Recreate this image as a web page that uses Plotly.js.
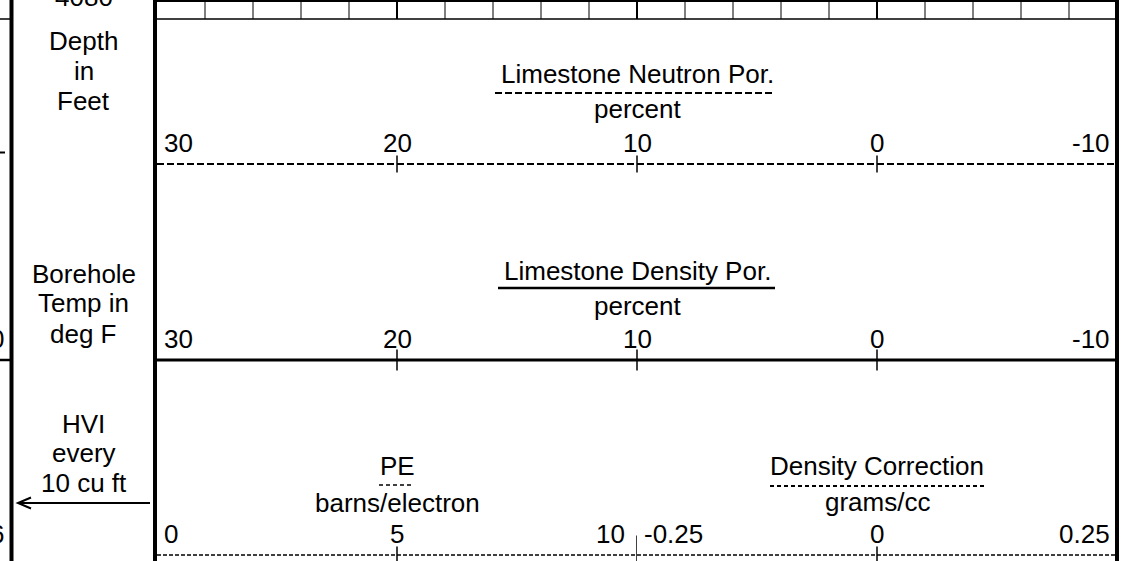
<!DOCTYPE html>
<html><head><meta charset="utf-8">
<script src="https://cdn.plot.ly/plotly-3.0.1.min.js"></script>
<style>html,body{margin:0;padding:0;background:#fff;overflow:hidden}#chart{width:1143px;height:561px}</style>
</head><body><div id="chart"></div>
<script>
// ---------- data ----------
const neutronRange = [30, -10];
const neutronTickVals = [30, 20, 10, 0, -10];
const neutronTickText = ['30', '20', '10', '0', '-10'];
const densityRange = [30, -10];
const densityTickVals = [30, 20, 10, 0, -10];
const densityTickText = ['30', '20', '10', '0', '-10'];
const peRange = [0, 10];
const peTickVals = [0, 5, 10];
const peTickText = ['0', '5', '10'];
const dcRange = [-0.25, 0.25];
const dcTickVals = [-0.25, 0, 0.25];
const dcTickText = ['-0.25', '0', '0.25'];
const gridMinor = [28, 26, 24, 22, 18, 16, 14, 12, 8, 6, 4, 2, -2, -4, -6, -8];
const gridMajor = [20, 10, 0];
const depthValue = '4080';
const depthTitle = ['Depth', 'in', 'Feet'];
const tempTitle = ['Borehole', 'Temp in', 'deg F'];
const hviTitle = ['HVI', 'every', '10 cu ft'];
const neutronTitle = 'Limestone Neutron Por.';
const neutronUnit = 'percent';
const densityTitle = 'Limestone Density Por.';
const densityUnit = 'percent';
const peTitle = 'PE';
const peUnit = 'barns/electron';
const dcTitle = 'Density Correction';
const dcUnit = 'grams/cc';
const leftFragments = ['0', '6'];

// ---------- layout helpers ----------
const W = 1143, H = 561;
const FS = 26;
const FONT = {family: 'Liberation Sans, Arial, sans-serif', size: FS, color: '#000'};
const K = '#000';

function lab(text, xref, x, baseline, anchor, xshift) {
  return {text: text, xref: xref, yref: 'y', x: x, y: baseline - 0.3465 * FS,
    xanchor: anchor || 'center', yanchor: 'middle', showarrow: false,
    xshift: xshift || 0, font: FONT, borderpad: 0};
}
function vlines(vals, y0, y1) {
  const x = [], y = [];
  vals.forEach(v => { x.push(v, v, null); y.push(y0, y1, null); });
  return {x: x, y: y};
}

const traces = [];
// anchor trace for pixel axes
traces.push({x: [0], y: [0], xaxis: 'x', yaxis: 'y', mode: 'markers', marker: {opacity: 0}, hoverinfo: 'skip'});
// top grid
const gm = vlines(gridMinor, 1, 19);
traces.push({x: gm.x, y: gm.y, xaxis: 'x2', yaxis: 'y', mode: 'lines', line: {color: K, width: 1}, hoverinfo: 'skip'});
const gM = vlines(gridMajor, 1, 19);
traces.push({x: gM.x, y: gM.y, xaxis: 'x2', yaxis: 'y', mode: 'lines', line: {color: K, width: 2}, hoverinfo: 'skip'});
// neutron scale line + ticks
traces.push({x: [neutronTickVals[0], neutronTickVals[neutronTickVals.length - 1]], y: [164, 164], xaxis: 'x2', yaxis: 'y',
  mode: 'lines', line: {color: K, width: 2, dash: '7px,3px'}, hoverinfo: 'skip'});
traces.push({x: neutronTickVals.slice(1, -1), y: neutronTickVals.slice(1, -1).map(() => 164), xaxis: 'x2', yaxis: 'y',
  mode: 'markers', marker: {symbol: 'line-ns', size: 12, line: {color: K, width: 1.5}}, hoverinfo: 'skip'});
// density scale line + ticks
traces.push({x: [densityTickVals[0], densityTickVals[densityTickVals.length - 1]], y: [360, 360], xaxis: 'x2', yaxis: 'y',
  mode: 'lines', line: {color: K, width: 3}, hoverinfo: 'skip'});
traces.push({x: densityTickVals.slice(1, -1), y: densityTickVals.slice(1, -1).map(() => 360), xaxis: 'x2', yaxis: 'y',
  mode: 'markers', marker: {symbol: 'line-ns', size: 15, line: {color: K, width: 1.5}}, hoverinfo: 'skip'});
// PE scale line + ticks
traces.push({x: [peTickVals[0], peTickVals[peTickVals.length - 1]], y: [555, 555], xaxis: 'x3', yaxis: 'y',
  mode: 'lines', line: {color: K, width: 1.5, dash: '4px,2px'}, hoverinfo: 'skip'});
traces.push({x: peTickVals.slice(1, -1), y: [555], xaxis: 'x3', yaxis: 'y',
  mode: 'markers', marker: {symbol: 'line-ns', size: 12, line: {color: K, width: 1.5}}, hoverinfo: 'skip'});
traces.push({x: [peTickVals[peTickVals.length - 1]], y: [551], xaxis: 'x3', yaxis: 'y',
  mode: 'markers', marker: {symbol: 'line-ns', size: 22, line: {color: K, width: 1.5}}, hoverinfo: 'skip'});
// density correction scale line + ticks
traces.push({x: [dcTickVals[0], dcTickVals[dcTickVals.length - 1]], y: [555, 555], xaxis: 'x4', yaxis: 'y',
  mode: 'lines', line: {color: K, width: 1.5, dash: '4px,2px'}, hoverinfo: 'skip'});
traces.push({x: dcTickVals.slice(1, -1), y: [555], xaxis: 'x4', yaxis: 'y',
  mode: 'markers', marker: {symbol: 'line-ns', size: 12, line: {color: K, width: 1.5}}, hoverinfo: 'skip'});

// ---------- annotations ----------
const ann = [];
function scaleLabels(vals, texts, xref, baseline, lastShift) {
  vals.forEach((v, i) => {
    if (i === 0) ann.push(lab(texts[i], xref, v, baseline, 'left', 6));
    else if (i === vals.length - 1) ann.push(lab(texts[i], xref, v, baseline, 'right', lastShift));
    else ann.push(lab(texts[i], xref, v, baseline, 'center', 0));
  });
}
scaleLabels(neutronTickVals, neutronTickText, 'x2', 152, -6);
scaleLabels(densityTickVals, densityTickText, 'x2', 348, -6);
scaleLabels(peTickVals, peTickText, 'x3', 543, -11);
scaleLabels(dcTickVals, dcTickText, 'x4', 543, -6);

ann.push(lab(neutronTitle, 'x2', 10, 83));
ann.push(lab(neutronUnit, 'x2', 10, 118));
ann.push(lab(densityTitle, 'x2', 10, 280));
ann.push(lab(densityUnit, 'x2', 10, 315));
ann.push(lab(peTitle, 'x3', 5, 475));
ann.push(lab(peUnit, 'x3', 5, 512));
ann.push(lab(dcTitle, 'x4', 0, 475));
ann.push(lab(dcUnit, 'x4', 0, 511));

const colX = 83.5;
// depth value at the very top (partly cut by the page edge, as in the reference)
ann.push({text: depthValue, xref: 'x', yref: 'y', x: colX, y: 7 + 0.212 * FS,
  xanchor: 'center', yanchor: 'bottom', showarrow: false, font: FONT, borderpad: 0});
[50, 80, 110].forEach((b, i) => ann.push(lab(depthTitle[i], 'x', colX, b)));
[283, 312, 343].forEach((b, i) => ann.push(lab(tempTitle[i], 'x', colX, b)));
[433, 462, 492].forEach((b, i) => ann.push(lab(hviTitle[i], 'x', colX, b)));
ann.push(lab(leftFragments[0], 'x', 5, 348, 'right'));
ann.push(lab(leftFragments[1], 'x', 5, 543, 'right'));

// ---------- shapes (frame) ----------
function seg(x0, y0, x1, y1, w, dash) {
  return {type: 'line', xref: 'x', yref: 'y', x0: x0, y0: y0, x1: x1, y1: y1,
    line: {color: K, width: w, dash: dash || 'solid'}};
}
const shapes = [
  seg(11.5, 0, 11.5, H, 4),
  seg(155, 0, 155, H, 4),
  seg(1117, 0, 1117, H, 4),
  seg(157, 1, 1117, 1, 2),
  seg(157, 19, 1117, 19, 1.5),
  seg(0, 19, 12, 19, 1.5),
  seg(0, 152.5, 5, 152.5, 2),
  seg(0, 360, 12, 360, 2.5),
  seg(495, 93, 773, 93, 2, '7px,3px'),
  seg(498, 288, 775, 288, 2.5),
  seg(379, 485, 414, 485, 1.5, '4px,3px'),
  seg(770, 486, 987, 486, 2, '4px,3px'),
  {type: 'path', xref: 'x', yref: 'y', path: 'M150,503 L18,503 M31,497.5 L18,503 L31,508.5',
    line: {color: K, width: 2}}
];

const layout = {
  width: W, height: H, margin: {l: 0, r: 0, t: 0, b: 0, pad: 0},
  paper_bgcolor: '#fff', plot_bgcolor: 'rgba(0,0,0,0)', showlegend: false,
  xaxis: {range: [0, W], domain: [0, 1], visible: false, fixedrange: true},
  yaxis: {range: [H, 0], domain: [0, 1], visible: false, fixedrange: true},
  xaxis2: {range: neutronRange, domain: [157 / W, 1117 / W], anchor: 'y', visible: false, fixedrange: true},
  xaxis3: {range: peRange, domain: [157 / W, 637 / W], anchor: 'y', visible: false, fixedrange: true},
  xaxis4: {range: dcRange, domain: [637 / W, 1117 / W], anchor: 'y', visible: false, fixedrange: true},
  annotations: ann, shapes: shapes, hovermode: false
};
Plotly.newPlot('chart', traces, layout, {staticPlot: true, displayModeBar: false});
</script></body></html>
